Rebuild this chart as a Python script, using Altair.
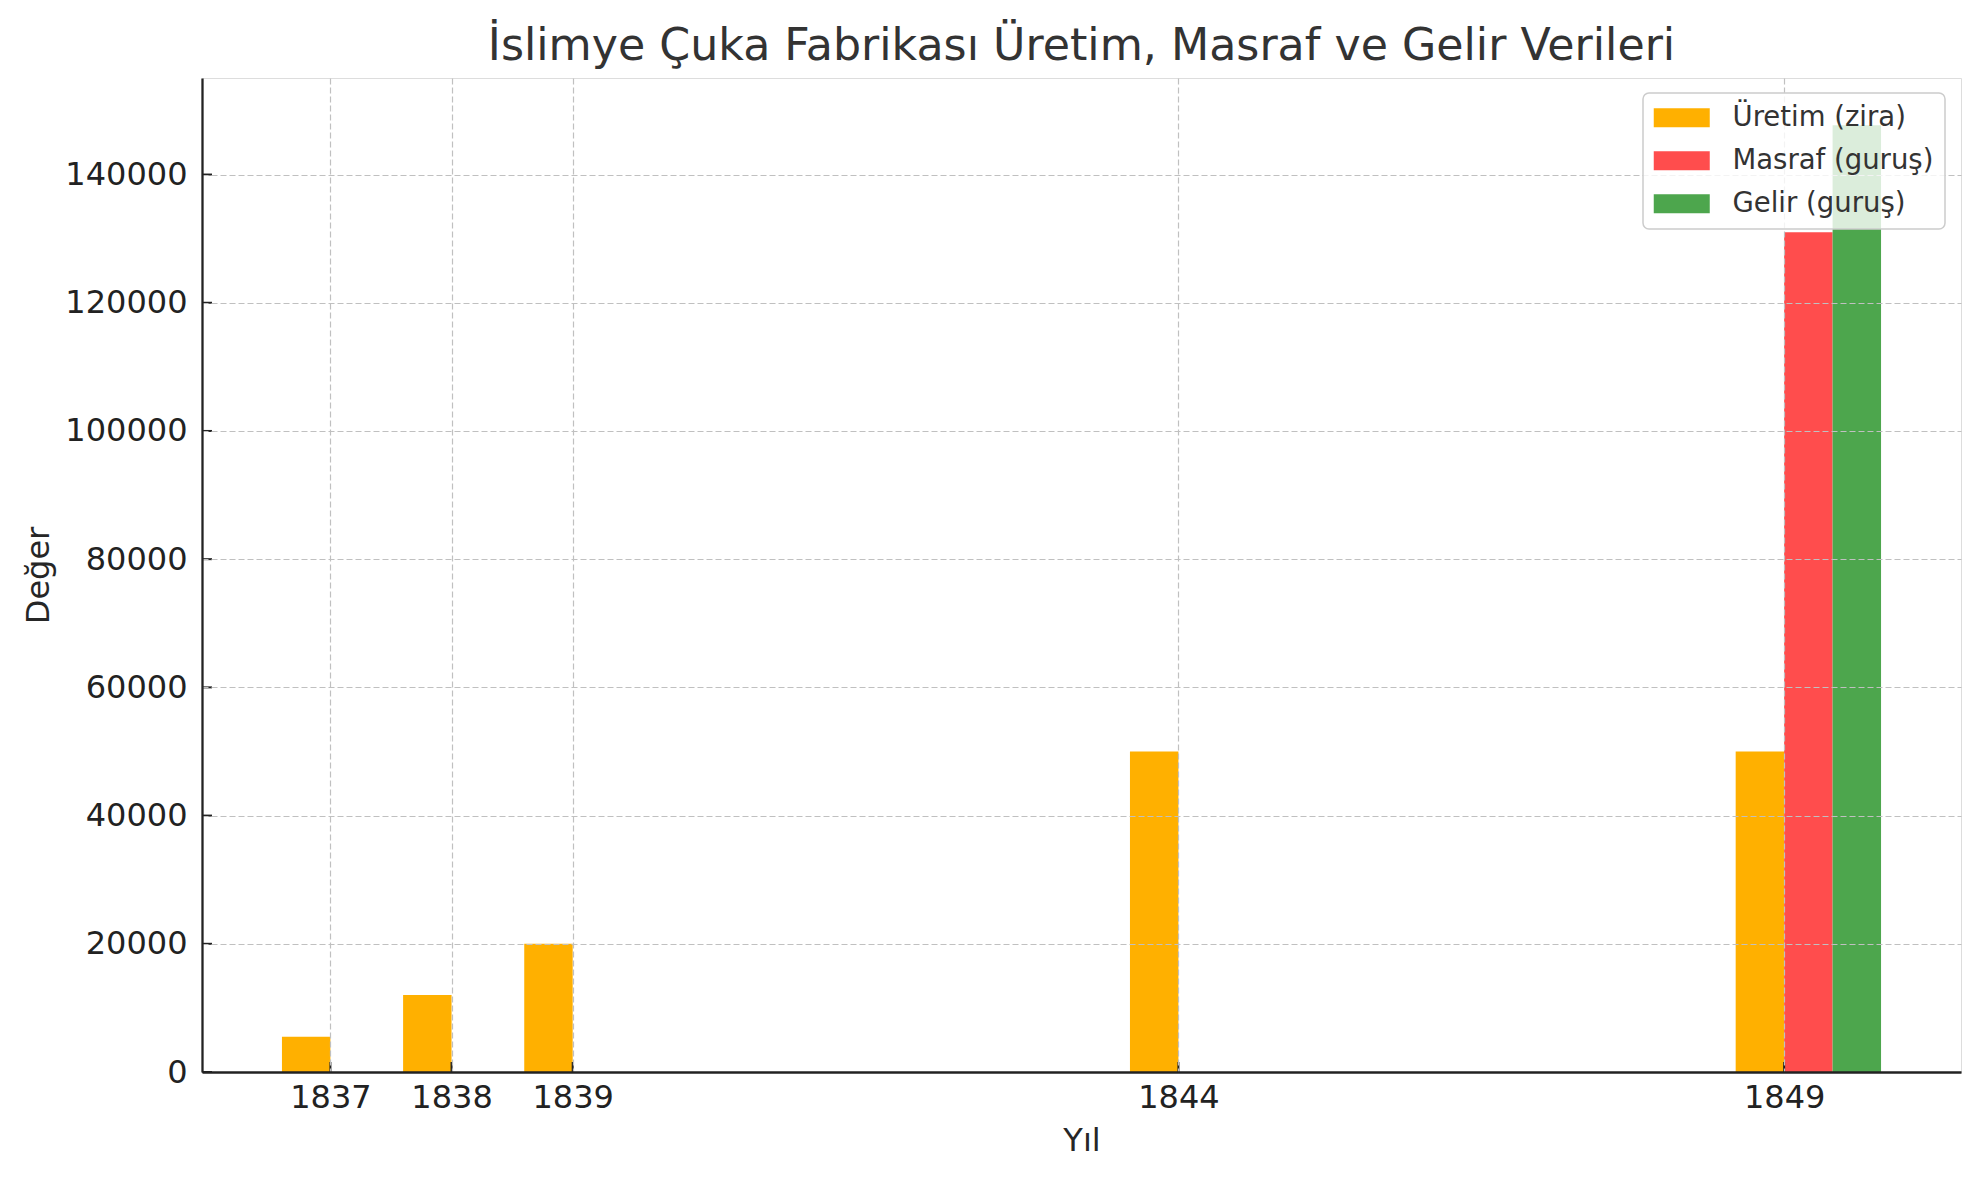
import altair as alt
import pandas as pd

years = [1837, 1838, 1839, 1844, 1849]
uretim = [5500, 12000, 20000, 50000, 50000]
masraf = [None, None, None, None, 131000]
gelir = [None, None, None, None, 147700]
series_names = ["Üretim (zira)", "Masraf (guruş)", "Gelir (guruş)"]
series_colors = ["#FFB000", "#FF4D4D", "#4DA64D"]
y_ticks = [0, 20000, 40000, 60000, 80000, 100000, 120000, 140000]

rows = []
for i, (name, vals) in enumerate(zip(series_names, [uretim, masraf, gelir])):
    for yr, v in zip(years, vals):
        if v is not None:
            rows.append({"year": yr, "series": name, "idx": i, "value": v})
df = pd.DataFrame(rows)

W, H = 1759, 994
FONT = "DejaVu Sans"

xscale = alt.Scale(domain=[1835.94, 1850.46], nice=False, zero=False, padding=0)
yscale = alt.Scale(domain=[0, 155060], nice=False, zero=False, padding=0)

xaxis = alt.Axis(values=years, format="d", title="Yıl", ticks=False,
                 grid=True, gridDash=[6, 3], gridColor="#c0c0c0", gridWidth=1.2,
                 domainColor="#222222", domainWidth=2.3,
                 labelFont=FONT, labelFontSize=32, labelColor="#222222", labelPadding=10,
                 titleFont=FONT, titleFontSize=32, titleFontWeight="normal", titleColor="#262626",
                 titlePadding=12, zindex=1, labelFlush=False)
yaxis = alt.Axis(values=y_ticks, format="d", title="Değer", ticks=False,
                 grid=True, gridDash=[6, 3], gridColor="#c0c0c0", gridWidth=1.2,
                 domainColor="#222222", domainWidth=2.3,
                 labelFont=FONT, labelFontSize=32, labelColor="#222222", labelPadding=15,
                 titleFont=FONT, titleFontSize=32, titleFontWeight="normal", titleColor="#262626",
                 titlePadding=9, zindex=1, labelFlush=False)

legend = alt.Legend(title=None, orient="none", legendX=1441, legendY=15,
                    fillColor="rgba(255,255,255,0.8)", strokeColor="#cccccc",
                    padding=11,
                    symbolType="M-1.4,-0.95H4.2V0.95H-1.4Z", symbolSize=400, symbolStrokeWidth=0,
                    symbolOpacity=1,
                    labelFont=FONT, labelFontSize=27.5, labelColor="#333333", labelOffset=51,
                    rowPadding=14, labelLimit=400, zindex=2)

bars = alt.Chart(df).transform_calculate(
    x0="datum.year - 0.4 + 0.4 * datum.idx",
    x1="datum.year + 0.4 * datum.idx",
).mark_bar(opacity=1, strokeWidth=0).encode(
    x=alt.X("x0:Q", scale=xscale, axis=xaxis),
    x2="x1:Q",
    y=alt.Y("value:Q", scale=yscale, axis=yaxis),
    y2=alt.datum(0),
    color=alt.Color("series:N", scale=alt.Scale(domain=series_names, range=series_colors),
                    legend=legend, sort=series_names),
)

xt = alt.Chart(pd.DataFrame({"year": years})).mark_rule(color="#222222", strokeWidth=2).encode(
    x=alt.X("year:Q", scale=xscale, axis=xaxis),
    y=alt.value(H),
    y2=alt.value(H - 10),
)
yt = alt.Chart(pd.DataFrame({"value": y_ticks})).mark_rule(color="#222222", strokeWidth=2).encode(
    y=alt.Y("value:Q", scale=yscale, axis=yaxis),
    x=alt.value(0),
    x2=alt.value(10),
)

chart = alt.layer(bars, xt, yt).properties(
    width=W, height=H,
    title=alt.TitleParams("İslimye Çuka Fabrikası Üretim, Masraf ve Gelir Verileri",
                          font=FONT, fontSize=44.3, fontWeight="normal", color="#333333",
                          anchor="middle", offset=9),
    autosize=alt.AutoSizeParams(type="none"),
    padding={"left": 194, "top": 70, "right": 11, "bottom": 100},
).configure_view(stroke=None).configure(background="white").configure_legend(
    strokeWidth=1.5, cornerRadius=6
)

chart.save("out.html", embed_options={"renderer": "svg", "actions": False})
